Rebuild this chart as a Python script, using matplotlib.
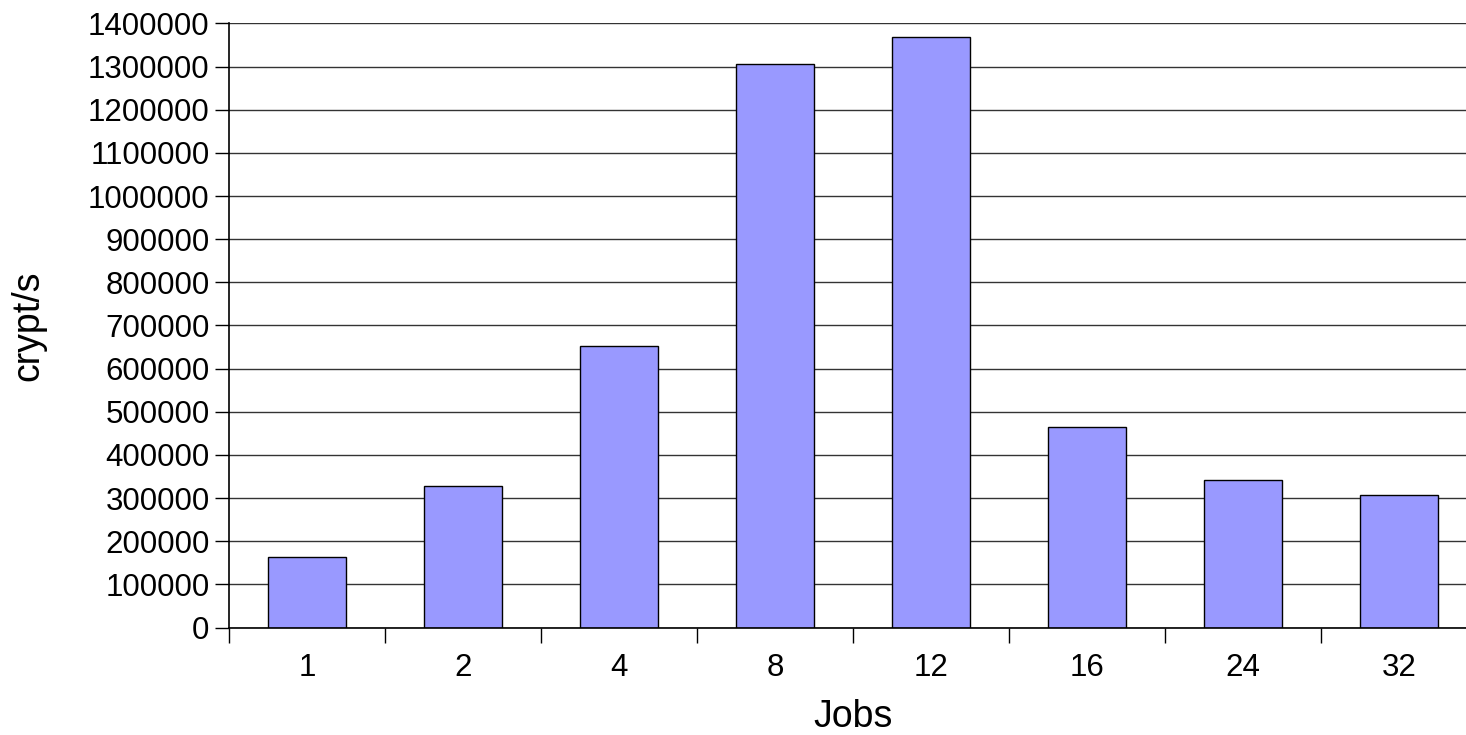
import matplotlib.pyplot as plt
import numpy as np

plt.rcParams['font.family'] = ['Liberation Sans', 'DejaVu Sans']

jobs = ['1', '2', '4', '8', '12', '16', '24', '32']
crypts = [164000, 328000, 652000, 1306000, 1369000, 465000, 343000, 306000]

fig = plt.figure(figsize=(14.66, 7.35), dpi=100)
ax = fig.add_axes([229/1466, 1 - 627.5/735, 1248/1466, 604/735])

x = np.arange(len(jobs))
ax.bar(x, crypts, width=0.5, color='#9999ff', edgecolor='black', linewidth=1, zorder=3)

ax.set_xlim(-0.5, len(jobs) - 0.5)
ax.set_ylim(0, 1400000)
ax.set_yticks(np.arange(0, 1400001, 100000))
ax.set_yticklabels([str(v) for v in range(0, 1400001, 100000)])
ax.set_xticks(x)
ax.set_xticklabels(jobs)
ax.set_xticks(np.arange(-0.5, len(jobs), 1), minor=True)

ax.tick_params(axis='y', labelsize=22.5, length=10, width=1, direction='out', pad=4)
ax.tick_params(axis='x', which='major', labelsize=22.5, length=0, pad=18)
ax.tick_params(axis='x', which='minor', length=11, width=1, direction='out')

ax.grid(axis='y', color='#333333', linewidth=1, zorder=0)
for s in ['top', 'right']:
    ax.spines[s].set_visible(False)
for s in ['left', 'bottom']:
    ax.spines[s].set_linewidth(1.2)
    ax.spines[s].set_zorder(4)

ax.set_xlabel('Jobs', fontsize=27, labelpad=12)
ax.set_ylabel('crypt/s', fontsize=27, labelpad=30)

fig.savefig('out.png', dpi=100)
